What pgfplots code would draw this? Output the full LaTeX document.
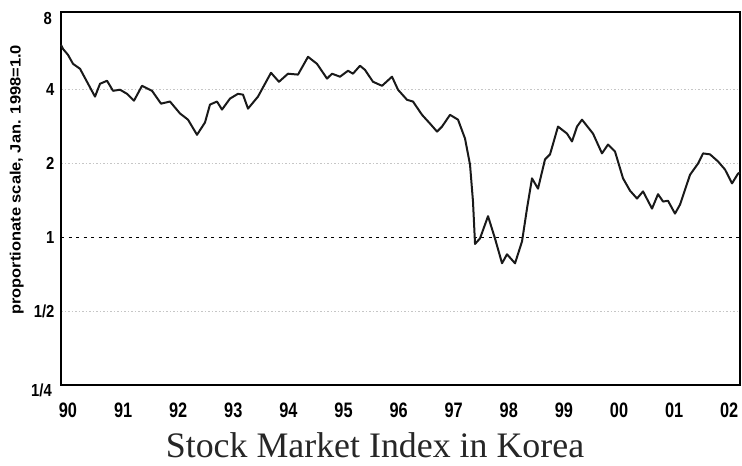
\documentclass[border=0pt]{standalone}
\usepackage{fontspec}
\setmainfont{Liberation Serif}
\newfontfamily\arial{Liberation Sans}
\usepackage{graphicx}
\usepackage{pgfplots}
\pgfplotsset{compat=1.18}
\newcommand{\xl}[1]{\scalebox{0.78}[1]{#1}}
\newcommand{\yl}[1]{\scalebox{0.85}[1]{#1}}
\begin{document}
\begin{tikzpicture}[x=1bp,y=1bp]
\path[use as bounding box] (0,0) rectangle (742,466);
\begin{axis}[
  at={(61bp,81bp)}, anchor=south west,
  scale only axis, width=679bp, height=373bp,
  xmin=-0.127, xmax=12.196,
  ymode=log, log basis y=2, ymin=0.25, ymax=8.3,
  xtick={0,1,2,3,4,5,6,7,8,9,10,11,12},
  xticklabels={{\xl{90}},{\xl{91}},{\xl{92}},{\xl{93}},{\xl{94}},{\xl{95}},{\xl{96}},{\xl{97}},{\xl{98}},{\xl{99}},{\xl{00}},{\xl{01}},{\xl{02}}},
  ytick={0.5,2,4},
  yticklabels={{\yl{1/2}},{\yl{2}},{\yl{4}}},
  extra y ticks={1}, extra y tick labels={{\yl{1}}},
  extra y tick style={grid=major, major grid style={black, line width=1.6bp, dash pattern=on 3bp off 4.5bp}},
  ymajorgrids,
  major grid style={gray!45, line width=1bp, dash pattern=on 1.5bp off 2bp},
  major tick length=0pt,
  axis line style={black, line width=1.8bp},
  xticklabel style={font=\arial\bfseries\fontsize{21}{21}\selectfont, anchor=center, yshift=-25bp},
  yticklabel style={font=\arial\bfseries\fontsize{17.5}{17.5}\selectfont, anchor=east, xshift=-3bp},
  ylabel={\scalebox{1.1}[1]{proportionate scale, Jan. 1998=1.0}},
  ylabel style={font=\arial\bfseries\fontsize{15}{15}\selectfont, at={(axis description cs:-0.065,0.55)}, anchor=center},
  clip=false,
]
\addplot[black!90, line width=2bp, line join=round] coordinates {
(-0.127,6.10) (-0.091,5.87) (0,5.55) (0.091,5.10) (0.218,4.87) (0.345,4.31)
(0.490,3.75) (0.581,4.23) (0.708,4.35) (0.817,3.96) (0.944,4.00) (1.071,3.85)
(1.198,3.61) (1.343,4.15) (1.525,3.96) (1.688,3.51) (1.851,3.58) (2.033,3.20)
(2.178,3.02) (2.341,2.62) (2.486,2.94) (2.577,3.48) (2.704,3.58) (2.795,3.32)
(2.940,3.68) (3.085,3.85) (3.176,3.82) (3.267,3.35) (3.448,3.75) (3.575,4.23)
(3.684,4.69) (3.829,4.31) (3.993,4.65) (4.174,4.61) (4.356,5.45) (4.519,5.10)
(4.701,4.44) (4.791,4.65) (4.936,4.52) (5.082,4.78) (5.172,4.65) (5.299,5.01)
(5.390,4.82) (5.535,4.31) (5.699,4.15) (5.880,4.52) (5.989,4.00) (6.152,3.64)
(6.261,3.58) (6.425,3.16) (6.570,2.91) (6.697,2.70) (6.788,2.83) (6.933,3.16)
(7.078,3.02) (7.205,2.53) (7.296,1.98) (7.350,1.40) (7.387,0.94) (7.477,0.99)
(7.623,1.22) (7.749,0.99) (7.877,0.784) (7.967,0.853) (8.113,0.784) (8.240,0.963)
(8.330,1.31) (8.421,1.74) (8.530,1.58) (8.657,2.08) (8.748,2.18) (8.893,2.83)
(9.056,2.65) (9.147,2.46) (9.238,2.83) (9.328,3.02) (9.528,2.65) (9.691,2.20)
(9.800,2.39) (9.927,2.24) (10.073,1.74) (10.200,1.55) (10.327,1.44) (10.436,1.54)
(10.599,1.31) (10.708,1.50) (10.799,1.40) (10.889,1.41) (11.016,1.25) (11.107,1.36)
(11.289,1.80) (11.434,2.00) (11.525,2.20) (11.652,2.18) (11.797,2.04) (11.924,1.89)
(12.051,1.66) (12.160,1.82) (12.196,1.84)
};
\node[anchor=east, font=\arial\bfseries\fontsize{17.5}{17.5}\selectfont, inner sep=3bp] at ([xshift=-6bp,yshift=-7bp]rel axis cs:0,1) {\yl{8}};
\node[anchor=east, font=\arial\bfseries\fontsize{17.5}{17.5}\selectfont, inner sep=3bp] at ([xshift=-6bp,yshift=-5bp]rel axis cs:0,0) {\yl{1/4}};
\end{axis}
\node[anchor=base, font=\fontsize{36}{36}\selectfont, text=black!85] at (375,8) {Stock Market Index in Korea};
\end{tikzpicture}
\end{document}
